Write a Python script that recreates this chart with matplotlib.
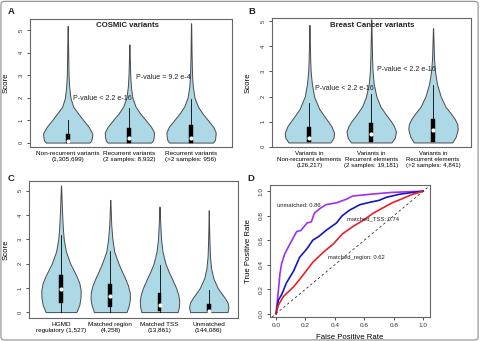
import numpy as np
import matplotlib
matplotlib.use('Agg')
import matplotlib.pyplot as plt
from matplotlib.patches import FancyBboxPatch

plt.rcParams['font.family'] = ['Liberation Sans', 'DejaVu Sans']
plt.rcParams['text.color'] = '#222222'

# ---- panel A: COSMIC variants (violin outlines) ----
a_labels = ['Non-recurrent variants\n(1,305,699)', 'Recurrent variants\n(2 samples: 8,932)',
            'Recurrent variants\n(>2 samples: 956)']
a1_y = [0, 0.08, 0.2, 0.4, 0.7, 1.0, 1.3, 1.6, 2.0, 2.5, 3.0, 4.0, 5.18]
a1_w = [0.88, 0.95, 0.98, 1.0, 0.85, 0.63, 0.42, 0.22, 0.11, 0.06, 0.035, 0.02, 0.005]
a2_y = [0, 0.08, 0.2, 0.45, 0.7, 1.0, 1.3, 1.6, 2.0, 2.5, 3.0, 3.6, 4.36]
a2_w = [0.88, 0.95, 0.98, 1.0, 0.88, 0.66, 0.43, 0.25, 0.12, 0.06, 0.035, 0.02, 0.005]
a3_y = [0, 0.08, 0.2, 0.45, 0.7, 1.0, 1.3, 1.6, 2.0, 2.5, 3.0, 4.0, 5.3]
a3_w = [0.88, 0.95, 0.98, 1.0, 0.9, 0.68, 0.46, 0.28, 0.14, 0.07, 0.04, 0.02, 0.005]
a_q1 = [0, 0, 0]
a_q3 = [0.38, 0.64, 0.78]
a_med = [0.07, 0.22, 0.22]
a_whislo = [0, 0, 0]
a_whishi = [1.0, 1.55, 1.95]

# ---- panel B: breast cancer variants ----
b_labels = ['Variants in\nNon-recurrent elements\n(126,217)',
            'Variants in\nRecurrent elements\n(2 samples: 19,181)',
            'Variants in\nRecurrent elements\n(>2 samples: 4,841)']
b1_y = [0.17, 0.35, 0.55, 0.8, 1.0, 1.3, 1.5, 2.0, 2.5, 3.0, 3.5, 4.0, 4.85]
b1_w = [0.85, 0.97, 1.0, 0.9, 0.76, 0.54, 0.4, 0.19, 0.1, 0.05, 0.03, 0.02, 0.005]
b2_y = [0.17, 0.35, 0.6, 0.8, 1.0, 1.3, 1.6, 2.0, 2.5, 3.0, 3.5, 4.0, 4.5, 5.07]
b2_w = [0.82, 0.95, 1.0, 0.93, 0.81, 0.58, 0.37, 0.21, 0.1, 0.055, 0.035, 0.025, 0.015, 0.005]
b3_y = [0.17, 0.4, 0.7, 0.9, 1.1, 1.3, 1.6, 2.0, 2.5, 3.0, 3.5, 4.0, 4.72]
b3_w = [0.78, 0.92, 1.0, 0.98, 0.88, 0.74, 0.5, 0.31, 0.16, 0.08, 0.04, 0.025, 0.005]
b_q1 = [0.17, 0.17, 0.17]
b_q3 = [0.8, 0.96, 1.1]
b_med = [0.36, 0.5, 0.67]
b_whislo = [0.17, 0.17, 0.17]
b_whishi = [1.73, 2.1, 2.46]

# ---- panel C: HGMD vs matched sets ----
c_labels = ['HGMD\nregulatory (1,527)', 'Matched region\n(4,258)', 'Matched TSS\n(13,861)',
            'Unmatched\n(144,086)']
c1_y = [0, 0.3, 0.6, 0.9, 1.2, 1.5, 2.0, 2.5, 3.0, 3.5, 4.2, 5.22]
c1_w = [0.78, 0.93, 0.99, 1.0, 0.93, 0.78, 0.47, 0.25, 0.14, 0.09, 0.05, 0.005]
c2_y = [0, 0.3, 0.55, 0.8, 1.1, 1.4, 1.7, 2.0, 2.5, 3.0, 3.6, 4.63]
c2_w = [0.83, 0.95, 1.0, 0.99, 0.9, 0.75, 0.58, 0.42, 0.2, 0.11, 0.05, 0.005]
c3_y = [0, 0.2, 0.45, 0.7, 1.0, 1.4, 1.7, 2.0, 2.5, 3.0, 3.6, 4.35]
c3_w = [0.92, 0.98, 1.0, 0.96, 0.84, 0.62, 0.45, 0.3, 0.15, 0.08, 0.04, 0.005]
c4_y = [0, 0.2, 0.4, 0.6, 0.8, 1.0, 1.4, 1.8, 2.3, 3.0, 3.6, 4.2]
c4_w = [0.95, 1.0, 0.95, 0.8, 0.62, 0.45, 0.23, 0.12, 0.06, 0.03, 0.015, 0.005]
c_q1 = [0.37, 0.23, 0.05, 0.02]
c_q3 = [1.54, 1.15, 0.8, 0.35]
c_med = [0.95, 0.67, 0.3, 0.05]
c_whislo = [0, 0, 0, 0]
c_whishi = [3.2, 2.53, 1.95, 0.9]

# ---- panel D: ROC curves ----
unm_fpr = [0, 0.016, 0.027, 0.038, 0.06, 0.095, 0.14, 0.17, 0.21, 0.24, 0.26, 0.30, 0.34,
           0.41, 0.48, 0.52, 0.64, 0.79, 1.0]
unm_tpr = [0, 0.19, 0.33, 0.41, 0.49, 0.57, 0.67, 0.68, 0.74, 0.75, 0.82, 0.86, 0.89,
           0.905, 0.935, 0.96, 0.975, 0.99, 1.0]
tss_fpr = [0, 0.016, 0.04, 0.07, 0.12, 0.16, 0.21, 0.25, 0.29, 0.34, 0.41, 0.45, 0.50,
           0.57, 0.64, 0.70, 0.75, 0.84, 0.93, 1.0]
tss_tpr = [0, 0.11, 0.16, 0.25, 0.35, 0.46, 0.53, 0.60, 0.63, 0.68, 0.74, 0.80, 0.845,
           0.89, 0.91, 0.925, 0.95, 0.975, 0.99, 1.0]
reg_fpr = [0, 0.016, 0.05, 0.12, 0.18, 0.25, 0.32, 0.39, 0.45, 0.52, 0.59, 0.66, 0.72,
           0.79, 0.86, 0.93, 1.0]
reg_tpr = [0, 0.07, 0.14, 0.22, 0.31, 0.42, 0.50, 0.57, 0.65, 0.71, 0.76, 0.82, 0.86,
           0.905, 0.94, 0.975, 1.0]

fill = '#ADD8E6'
edge = '#4a4a4a'
spine = '#666666'


def vstats(ys, ws, med):
    ys = np.asarray(ys, float)
    ws = np.asarray(ws, float)
    return dict(coords=ys, vals=ws, mean=med, median=med, min=ys[0], max=ys[-1])


def violins(ax, profiles, q1, q3, med, lo, hi, labels, boxw):
    pos = np.arange(1, len(profiles) + 1)
    stats = [vstats(y, w, m) for (y, w), m in zip(profiles, med)]
    parts = ax.violin(stats, positions=pos, widths=0.8, showmeans=False,
                      showextrema=False, showmedians=False)
    for b in parts['bodies']:
        b.set_facecolor(fill)
        b.set_edgecolor(edge)
        b.set_linewidth(0.7)
        b.set_alpha(1)
    bstats = [dict(med=m, q1=a, q3=b, whislo=l, whishi=h, fliers=[])
              for m, a, b, l, h in zip(med, q1, q3, lo, hi)]
    ax.bxp(bstats, positions=pos, widths=boxw, patch_artist=True, showcaps=False,
           manage_ticks=False,
           boxprops=dict(facecolor='black', edgecolor='black', linewidth=0.3),
           whiskerprops=dict(color='black', linewidth=0.6),
           medianprops=dict(linewidth=0))
    ax.scatter(pos, med, s=9, color='white', zorder=5, linewidths=0)
    ax.set_xticks(pos)
    ax.set_xticklabels(labels, fontsize=4.6, linespacing=1.25)
    ax.tick_params(axis='x', length=0, pad=3)
    ax.set_yticks(range(6))
    ax.set_yticklabels([str(i) for i in range(6)], rotation=90, va='center', fontsize=4.2)
    ax.tick_params(axis='y', length=2.5, width=0.6, pad=2, colors='#333333')
    ax.set_ylabel('Score', fontsize=5.6)
    for s in ax.spines.values():
        s.set_color(spine)
        s.set_linewidth(0.8)


fig = plt.figure(figsize=(4.8, 3.41), dpi=100)

axA = fig.add_axes([0.0625, 0.570, 0.421, 0.373])
violins(axA, [(a1_y, a1_w), (a2_y, a2_w), (a3_y, a3_w)], a_q1, a_q3, a_med,
        a_whislo, a_whishi, a_labels, 0.065)
axA.set_xlim(0.389, 3.665)
axA.set_ylim(-0.18, 5.47)
axA.yaxis.set_label_coords(-0.1, 0.5)
axA.text(1.97, 5.19, 'COSMIC variants', ha='center', va='center', fontsize=5.6,
         fontweight='bold')
axA.text(1.09, 1.97, 'P-value < 2.2 e-16', ha='left', va='center', fontsize=5.1)
axA.text(2.11, 2.88, 'P-value = 9.2 e-4', ha='left', va='center', fontsize=5.1)

axB = fig.add_axes([0.567, 0.569, 0.415, 0.377])
violins(axB, [(b1_y, b1_w), (b2_y, b2_w), (b3_y, b3_w)], b_q1, b_q3, b_med,
        b_whislo, b_whishi, b_labels, 0.065)
axB.set_xticklabels(b_labels, fontsize=4.45, linespacing=1.2)
axB.set_xlim(0.397, 3.62)
axB.set_ylim(-0.01, 5.11)
axB.yaxis.set_label_coords(-0.102, 0.5)
axB.text(2.01, 4.81, 'Breast Cancer variants', ha='center', va='center', fontsize=5.6,
         fontweight='bold')
axB.text(1.09, 2.32, 'P-value < 2.2 e-16', ha='left', va='center', fontsize=5.1)
axB.text(2.09, 3.09, 'P-value < 2.2 e-16', ha='left', va='center', fontsize=5.1)

axC = fig.add_axes([0.061, 0.067, 0.435, 0.401])
violins(axC, [(c1_y, c1_w), (c2_y, c2_w), (c3_y, c3_w), (c4_y, c4_w)], c_q1, c_q3, c_med,
        c_whislo, c_whishi, c_labels, 0.08)
axC.set_xlim(0.356, 4.595)
axC.set_ylim(-0.25, 5.39)
axC.yaxis.set_label_coords(-0.092, 0.5)

axD = fig.add_axes([0.5625, 0.070, 0.333, 0.387])
axD.plot(unm_fpr, unm_tpr, color='#A030F0', lw=1.2)
axD.plot(tss_fpr, tss_tpr, color='#1515C8', lw=1.2)
axD.plot(reg_fpr, reg_tpr, color='#E8202A', lw=1.2)
axD.axline((0, 0), slope=1, color='#333333', lw=0.6, ls=(0, (3, 3)))
axD.set_xlim(-0.041, 1.045)
axD.set_ylim(-0.028, 1.049)
ticks = [0, 0.2, 0.4, 0.6, 0.8, 1.0]
axD.set_xticks(ticks)
axD.set_xticklabels(['%.1f' % t for t in ticks], fontsize=4.6)
axD.set_yticks(ticks)
axD.set_yticklabels(['%.1f' % t for t in ticks], fontsize=4.6, rotation=90, va='center')
axD.tick_params(length=2.5, width=0.6, pad=2, colors='#333333')
axD.set_xlabel('False Positive Rate', fontsize=5.6)
axD.set_ylabel('True Positive Rate', fontsize=5.6)
axD.xaxis.set_label_coords(0.5, -0.13)
axD.yaxis.set_label_coords(-0.114, 0.5)
for s in axD.spines.values():
    s.set_color(spine)
    s.set_linewidth(0.8)
axD.text(0.005, 0.88, 'unmatched: 0.86', ha='left', va='center', fontsize=4.2)
axD.text(0.48, 0.775, 'matched_TSS: 0.74', ha='left', va='center', fontsize=4.2)
axD.text(0.35, 0.455, 'matched_region: 0.62', ha='left', va='center', fontsize=4.2)

for lab, x, y in [('A', 0.017, 0.967), ('B', 0.517, 0.967), ('C', 0.015, 0.478),
                  ('D', 0.515, 0.478)]:
    fig.text(x, y, lab, fontsize=6.8, fontweight='bold', ha='left', va='center')

fig.patches.append(FancyBboxPatch((0.002, 0.003), 0.994, 0.993, transform=fig.transFigure,
                                  boxstyle='round,pad=0,rounding_size=0.008',
                                  ec='#999999', fc='none', lw=0.9))

fig.savefig('out.png', dpi=100)
